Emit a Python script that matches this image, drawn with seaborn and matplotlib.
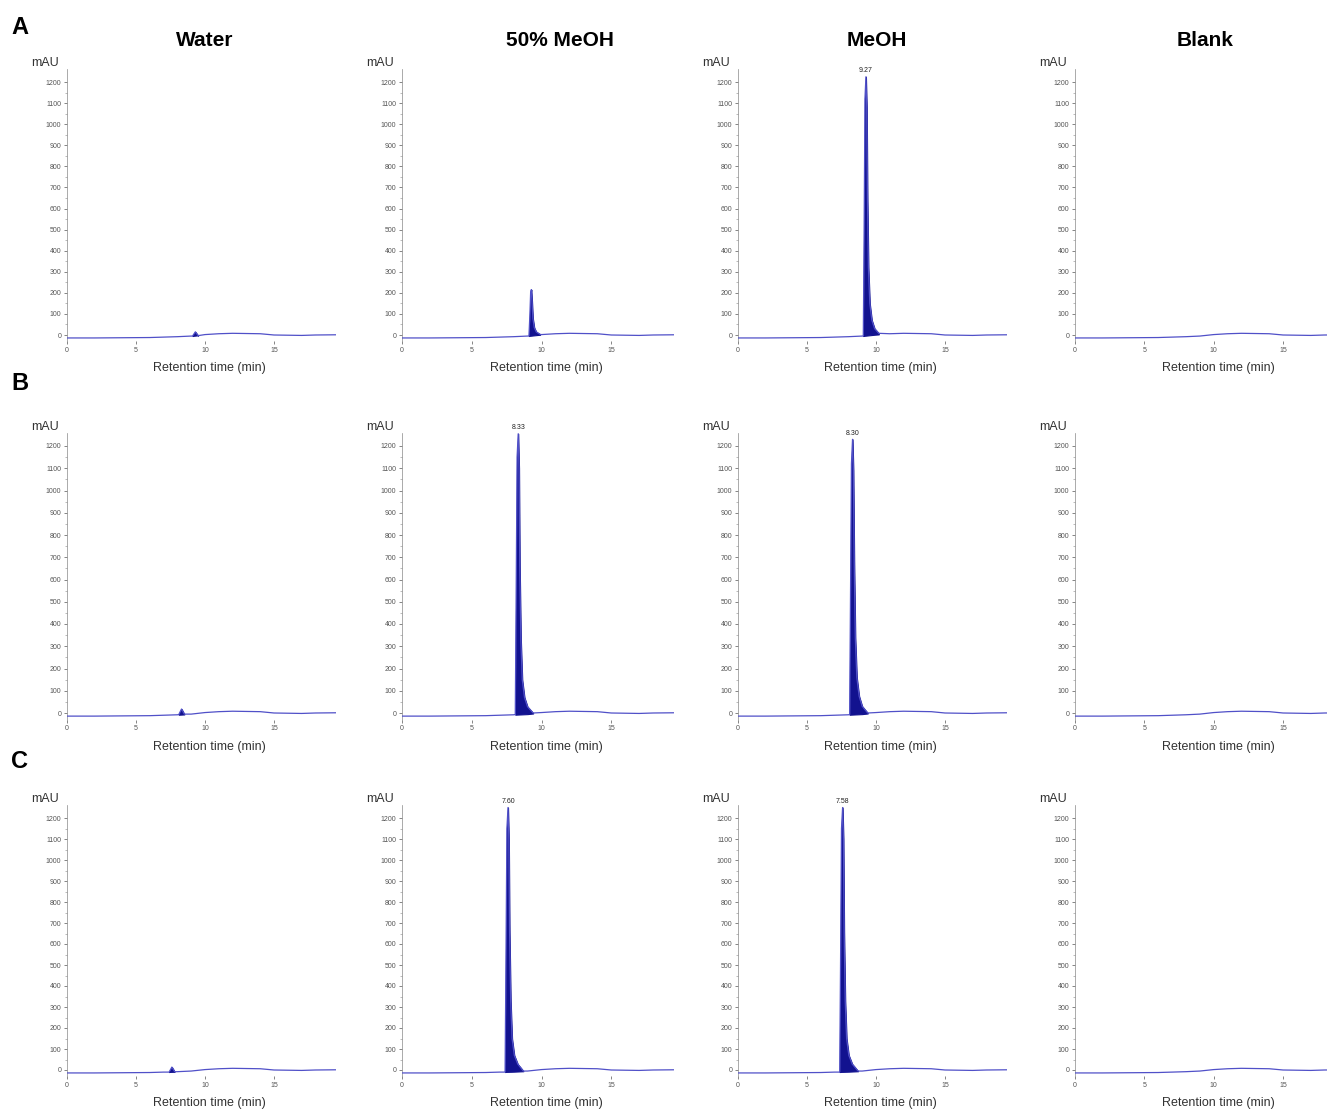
import numpy as np
import pandas as pd
import matplotlib
matplotlib.use("Agg")
import matplotlib.pyplot as plt
import seaborn as sns

# titres
col_titles = ["Water", "50% MeOH", "MeOH", "Blank"]
row_letters = ["A", "B", "C"]
y_ticks = [0, 100, 200, 300, 400, 500, 600, 700, 800, 900, 1000, 1100, 1200]
x_ticks = [0, 5, 10, 15]

# ligne de base commune
base_t = [0, 2, 4, 6, 7, 8, 9, 10, 11, 12, 13, 14, 15, 16, 17, 18, 19.5]
base_a = [-14, -14, -13, -12, -10, -8, -5, 2, 6, 8, 7, 6, 0, -1, -2, 0, 1]

# pics : temps et absorbance (mAU)
peak_A_water_t = [9.1, 9.3, 9.5]
peak_A_water_a = [-5, 15, -3]
peak_A_50_t = [9.10, 9.17, 9.22, 9.27, 9.32, 9.38, 9.48, 9.62, 9.90]
peak_A_50_a = [-5, 100, 200, 215, 160, 80, 35, 15, 3]
peak_A_meoh_t = [9.08, 9.14, 9.20, 9.27, 9.33, 9.38, 9.45, 9.55, 9.70, 9.90, 10.2]
peak_A_meoh_a = [-5, 500, 1120, 1225, 1080, 650, 320, 150, 70, 30, 8]

peak_B_water_t = [8.1, 8.3, 8.5]
peak_B_water_a = [-7, 18, -5]
peak_B_50_t = [8.12, 8.18, 8.25, 8.33, 8.39, 8.44, 8.52, 8.62, 8.78, 9.00, 9.4]
peak_B_50_a = [-7, 500, 1150, 1255, 1100, 660, 330, 150, 70, 28, 0]
peak_B_meoh_t = [8.09, 8.15, 8.22, 8.30, 8.36, 8.42, 8.50, 8.61, 8.78, 9.00, 9.4]
peak_B_meoh_a = [-7, 500, 1120, 1230, 1090, 680, 340, 160, 75, 30, 0]

peak_C_water_t = [7.4, 7.6, 7.8]
peak_C_water_a = [-10, 14, -8]
peak_C_50_t = [7.39, 7.45, 7.52, 7.60, 7.66, 7.71, 7.79, 7.89, 8.05, 8.30, 8.7]
peak_C_50_a = [-10, 500, 1150, 1250, 1100, 660, 330, 150, 70, 28, -5]
peak_C_meoh_t = [7.37, 7.43, 7.50, 7.58, 7.64, 7.69, 7.77, 7.87, 8.03, 8.28, 8.7]
peak_C_meoh_a = [-10, 500, 1150, 1250, 1100, 660, 330, 150, 70, 28, -5]

peaks = [
    [(peak_A_water_t, peak_A_water_a, None), (peak_A_50_t, peak_A_50_a, None),
     (peak_A_meoh_t, peak_A_meoh_a, "9.27"), None],
    [(peak_B_water_t, peak_B_water_a, None), (peak_B_50_t, peak_B_50_a, "8.33"),
     (peak_B_meoh_t, peak_B_meoh_a, "8.30"), None],
    [(peak_C_water_t, peak_C_water_a, None), (peak_C_50_t, peak_C_50_a, "7.60"),
     (peak_C_meoh_t, peak_C_meoh_a, "7.58"), None],
]

sns.set_style("ticks")
plt.rcParams["font.family"] = ["Liberation Sans", "DejaVu Sans"]

W, H = 1327, 1110
fig = plt.figure(figsize=(W / 100, H / 100), dpi=100)

# position des axes en pixels : zero y, px par mAU / zero x, px par min
rows_px = [(335, 0.2108), (713, 0.2225), (1070, 0.21)]
cols_px = [(67, 13.8), (402, 13.95), (738, 13.8), (1075, 13.87)]
ymin, ymax = -30, 1260
xmax = 19.5

line_col = "#5050c8"
fill_col = "#12128f"

for i, (y0, sy) in enumerate(rows_px):
    for j, (x0, sx) in enumerate(cols_px):
        left = x0 / W
        width = xmax * sx / W
        top_px = y0 - ymax * sy
        bot_px = y0 - ymin * sy
        ax = fig.add_axes([left, 1 - bot_px / H, width, (bot_px - top_px) / H])

        df = pd.DataFrame({"t": base_t, "a": base_a})
        pk = peaks[i][j]
        if pk is not None:
            pt, pa, lab = pk
            df = df[(df["t"] < pt[0]) | (df["t"] > pt[-1])]
            df = pd.concat([df, pd.DataFrame({"t": pt, "a": pa})]).sort_values("t")
            ax.fill_between(pt, pa, np.interp(pt, base_t, base_a),
                            color=fill_col, linewidth=0.8, edgecolor=fill_col, zorder=2)
            if lab:
                k = int(np.argmax(pa))
                ax.text(pt[k], pa[k] + 12, lab, ha="center", va="bottom",
                        fontsize=5, color="#222222")

        sns.lineplot(data=df, x="t", y="a", ax=ax, color=line_col,
                     linewidth=0.9, zorder=3, sort=False)

        ax.set_xlim(0, xmax)
        ax.set_ylim(ymin, ymax)
        ax.set_yticks(y_ticks)
        ax.set_yticks(np.arange(50, 1250, 100), minor=True)
        ax.set_xticks(x_ticks)
        ax.tick_params(axis="both", labelsize=5, length=2.5, width=0.5,
                       colors="#555555", pad=1.5)
        ax.tick_params(axis="y", which="minor", length=1.5, width=0.4, colors="#888888")
        sns.despine(ax=ax, top=True, right=True, bottom=True)
        ax.spines["left"].set_linewidth(0.5)
        ax.spines["left"].set_color("#888888")
        ax.set_xlabel("Retention time (min)", fontsize=9, color="#333333")
        ax.xaxis.set_label_coords(0.53, -0.075)
        ax.set_ylabel("")
        ax.text(-0.03, 1.0, "mAU", transform=ax.transAxes, ha="right",
                va="bottom", fontsize=9, color="#333333")
        ax.set_facecolor("white")

# titres de colonnes et lettres de lignes
col_centres = [205, 560, 877, 1205]
for x, t in zip(col_centres, col_titles):
    fig.text(x / W, 1 - 40 / H, t, ha="center", va="center",
             fontsize=15, fontweight="bold", color="black")
for y, l in zip([28, 384, 762], row_letters):
    fig.text(20 / W, 1 - y / H, l, ha="center", va="center",
             fontsize=17, fontweight="bold", color="black")

fig.savefig("out.png", dpi=100, facecolor="white")
